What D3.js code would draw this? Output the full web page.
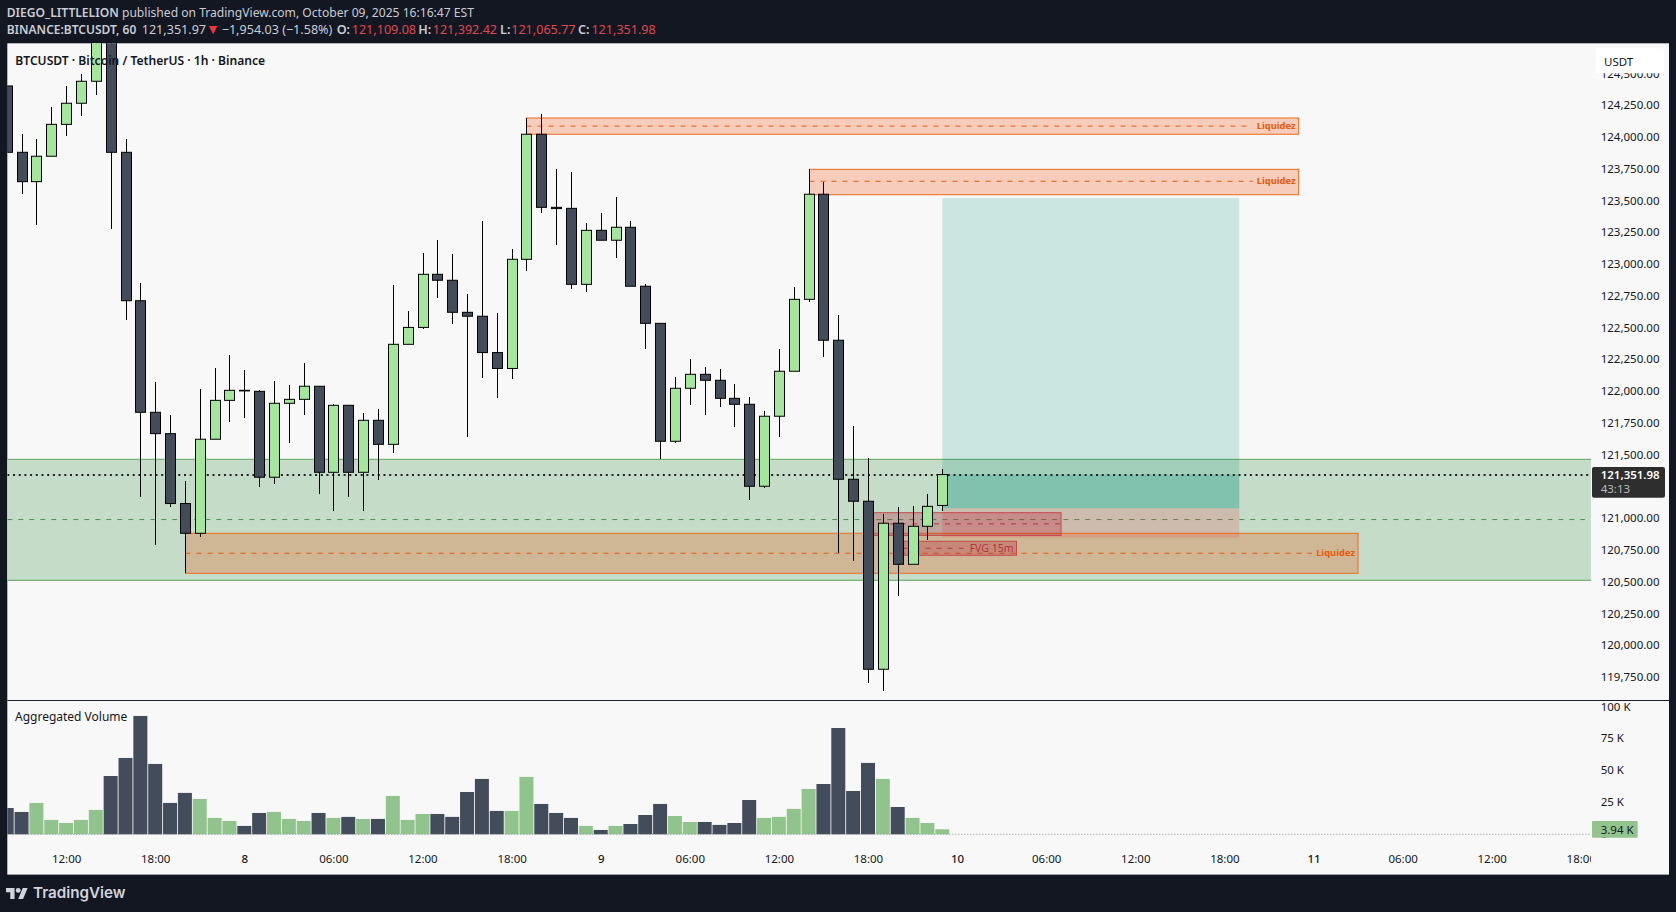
<!DOCTYPE html>
<html>
<head>
<meta charset="utf-8">
<script src="https://cdnjs.cloudflare.com/ajax/libs/d3/7.8.5/d3.min.js"></script>
<style>
  html, body { margin: 0; padding: 0; background: #131722; overflow: hidden; }
  text { font-family: "Noto Sans", sans-serif; }
  .axis text { font-size: 11.5px; fill: #131722; }
  .axis path, .axis line { display: none; }
</style>
</head>
<body>
<div id="chart"></div>
<script>
// bougies 1h, du bord gauche jusqu'a la bougie en cours
const opens = [124410,123888,123657,123857,124108,124274,124447,124811,123888,122720,121842,121674,121124,120890,121630,121936,122015,122007,121331,121913,121944,122047,121370,121897,121370,121779,121590,122377,122510,122928,122881,122629,122598,122312,122187,123046,124030,123455,123447,122849,123274,123196,123298,122834,122542,121614,122031,122141,122094,121952,121905,121260,121811,122165,122731,123558,122409,121315,121142,119820,120969,120646,120945,121109];
const highs = [124410,124032,123993,124245,124410,124504,124900,124900,123993,122860,122081,121821,121301,122025,122191,122293,122175,122018,122088,122057,122230,122047,121907,121897,121837,121868,122844,122639,123096,123198,123088,122773,123347,122622,123127,124158,124189,123757,123733,123332,123410,123536,123347,122852,122542,122120,122262,122199,122183,122065,121962,121852,122340,122828,123757,123657,122608,121734,121482,121042,121095,121102,121199,121392];
const lows = [123888,123562,123316,123857,124019,124176,124339,123285,122568,121178,120800,121099,120578,120863,121630,121768,121800,121257,121280,121603,121823,121202,121068,121178,121068,121312,121524,122377,122498,122744,122539,121650,122114,121957,122107,122956,123413,123161,122815,122791,123196,123059,122834,122343,121475,121603,121902,121823,121886,121729,121152,121243,121650,122165,122712,122280,120737,120674,119714,119651,120399,120646,120840,121066];
const closes = [123888,123657,123857,124108,124274,124447,124811,123888,122720,121842,121674,121124,120890,121630,121936,122015,122015,121331,121913,121944,122047,121370,121897,121370,121779,121590,122377,122510,122928,122881,122629,122598,122312,122187,123046,124030,123455,123445,122849,123274,123196,123298,122834,122542,121614,122031,122141,122094,121952,121905,121260,121811,122165,122731,123558,122409,121315,121142,119820,120969,120646,120945,121102,121352];
const volumes = [20.7,17.6,24.7,11.3,8.9,11.3,19.2,45.9,60.1,93.2,55.4,24.7,32.6,27.8,12.9,10.5,6.6,16.8,17.6,12.1,10.5,16.8,12.9,13.7,12.1,12.1,30.2,11.3,16,16,13.7,33.3,43.6,18.4,18.4,45.2,23.9,16.8,12.9,6.6,3.4,6.6,8.1,15.2,23.9,14.4,9.7,9.7,7.4,8.9,27,12.9,13.7,20,35.7,39.6,83.7,34.1,56.2,43.6,21.5,12.9,8.9,3.94];

const priceTicks = [124500,124250,124000,123750,123500,123250,123000,122750,122500,122250,122000,121750,121500,121000,120750,120500,120250,120000,119750];
const volumeTicks = [0,25,50,75,100];
const timeBars = [4,10,16,22,28,34,40,46,52,58,64,70,76,82,88,94,100,106];
const timeLabels = ['12:00','18:00','8','06:00','12:00','18:00','9','06:00','12:00','18:00','10','06:00','12:00','18:00','11','06:00','12:00','18:00'];
const dayLabels = ['8','9','10','11'];

const lastClose = 121351.98;
const greenZone = { top: 121472, mid: 120998, bottom: 120520 };
const liquidityStart = [35, 54, 12];
const liquidityEnd = [87, 87, 91];
const liquidityTop = [124158, 123754, 120890];
const liquidityMid = [124094, 123660, 120733];
const liquidityBottom = [124030, 123554, 120575];
const fvgStart = [58, 60.4];
const fvgEnd = [71, 68];
const fvgTop = [121052, 120827];
const fvgMid = [120964, 120772];
const fvgBottom = [120873, 120717];
const trade = { start: 63, end: 83, target: 123528, entry: 121087, stop: 120855 };

const W = 1676, H = 912;
const pane = { left: 7.3, right: 1591, top: 43.3, bottom: 874.6, edge: 1669, split: 700 };

const x = d3.scaleLinear().domain([0, 1]).range([6.7, 21.55]);
const y = d3.scaleLinear().domain([124250, 121000]).range([106.3, 519.3]);
const yVol = d3.scaleLinear().domain([0, 100]).range([834.3, 707.3]);
const snap = v => Math.round(v) + 0.5;

const svg = d3.select('#chart').append('svg').attr('width', W).attr('height', H).style('display', 'block');

svg.append('rect').attr('width', W).attr('height', H).attr('fill', '#131722');
svg.append('rect')
  .attr('x', pane.left).attr('y', pane.top)
  .attr('width', pane.edge - pane.left).attr('height', pane.bottom - pane.top)
  .attr('fill', '#f8f8f8');

const defs = svg.append('defs');
defs.append('clipPath').attr('id', 'clip-main').append('rect')
  .attr('x', pane.left).attr('y', pane.top).attr('width', pane.right - pane.left).attr('height', pane.split - pane.top);
defs.append('clipPath').attr('id', 'clip-time').append('rect')
  .attr('x', pane.left).attr('y', pane.split).attr('width', pane.right - pane.left).attr('height', pane.bottom - pane.split);

const main = svg.append('g').attr('clip-path', 'url(#clip-main)');

function zone(g, x0, x1, top, bottom, fill, opacity, stroke) {
  g.append('rect')
    .attr('x', x0).attr('width', x1 - x0)
    .attr('y', y(top)).attr('height', y(bottom) - y(top))
    .attr('fill', fill).attr('fill-opacity', opacity)
    .attr('stroke', stroke || 'none').attr('stroke-width', 1);
}

function dashed(g, x0, x1, price, color) {
  g.append('line')
    .attr('x1', x0).attr('x2', x1)
    .attr('y1', y(price)).attr('y2', y(price))
    .attr('stroke', color).attr('stroke-width', 1)
    .attr('stroke-dasharray', '5 6');
}

// zone verte
main.append('rect')
  .attr('x', pane.left).attr('width', pane.right - pane.left)
  .attr('y', y(greenZone.top)).attr('height', y(greenZone.bottom) - y(greenZone.top))
  .attr('fill', '#c5ddc8');
main.selectAll('line.green-edge').data([greenZone.top, greenZone.bottom]).enter().append('line')
  .attr('class', 'green-edge')
  .attr('x1', pane.left).attr('x2', pane.right)
  .attr('y1', d => y(d)).attr('y2', d => y(d))
  .attr('stroke', '#5ea35e').attr('stroke-width', 1);
dashed(main, pane.left, 1585, greenZone.mid, '#4c8f55');

// position longue
zone(main, x(trade.start), x(trade.end), trade.target, trade.entry, '#0a9580', 0.19);
zone(main, x(trade.start), x(trade.end), lastClose, trade.entry, '#0a9580', 0.22);
zone(main, x(trade.start), x(trade.end), trade.entry, trade.stop, '#f23645', 0.2);

// liquidite
liquidityStart.forEach((s, i) => {
  const x0 = snap(x(s)), x1 = x(liquidityEnd[i]);
  zone(main, x0, x1, liquidityTop[i], liquidityBottom[i], '#f04600', 0.25, '#ee6a1c');
  dashed(main, x0, x1 - 46, liquidityMid[i], '#e8590c');
  main.append('text')
    .attr('x', x1 - 3).attr('y', y(liquidityMid[i]) + 3.2)
    .attr('text-anchor', 'end')
    .attr('fill', '#e8590c').attr('font-size', 9.4).attr('font-weight', 700)
    .text('Liquidez');
});

// FVG
fvgStart.forEach((s, i) => {
  const x0 = x(s), x1 = x(fvgEnd[i]);
  zone(main, x0, x1, fvgTop[i], fvgBottom[i], '#b22234', 0.3, '#c44a4a');
  dashed(main, x0, i === 1 ? x1 - 50 : x1, fvgMid[i], '#b8324a');
});
main.append('text')
  .attr('x', x(fvgEnd[1]) - 3).attr('y', y(fvgMid[1]) + 3.6)
  .attr('text-anchor', 'end')
  .attr('fill', '#b8323c').attr('font-size', 10.5)
  .text('FVG 15m');

// ligne du dernier prix
main.append('line')
  .attr('x1', pane.left).attr('x2', pane.right)
  .attr('y1', Math.round(y(lastClose))).attr('y2', Math.round(y(lastClose)))
  .attr('stroke', '#222').attr('stroke-width', 2)
  .attr('stroke-dasharray', '2 3.7');

// bougies
const candles = main.append('g').selectAll('g').data(opens).enter().append('g');
candles.append('line')
  .attr('x1', (d, i) => snap(x(i))).attr('x2', (d, i) => snap(x(i)))
  .attr('y1', (d, i) => y(highs[i])).attr('y2', (d, i) => y(lows[i]))
  .attr('stroke', '#000').attr('stroke-width', 1)
  .attr('shape-rendering', 'crispEdges');
candles.append('rect')
  .attr('x', (d, i) => snap(x(i)) - 5)
  .attr('width', 10)
  .attr('y', (d, i) => y(Math.max(d, closes[i])))
  .attr('height', (d, i) => Math.max(0.6, Math.abs(y(d) - y(closes[i]))))
  .attr('fill', (d, i) => closes[i] > d ? '#a5e69d' : '#434c5a')
  .attr('stroke', '#000').attr('stroke-width', 1);

// separation prix / volume
svg.append('line')
  .attr('x1', pane.left).attr('x2', pane.edge)
  .attr('y1', pane.split + 0.5).attr('y2', pane.split + 0.5)
  .attr('stroke', '#1a1f2e').attr('stroke-width', 1);

// volume
svg.append('g').selectAll('rect').data(volumes).enter().append('rect')
  .attr('x', (d, i) => Math.max(pane.left, x(i) - 7))
  .attr('width', (d, i) => x(i) + 7 - Math.max(pane.left, x(i) - 7))
  .attr('y', d => yVol(d))
  .attr('height', d => yVol(0) - yVol(d))
  .attr('fill', (d, i) => closes[i] > opens[i] ? '#91c48c' : '#434c5a');
svg.append('line')
  .attr('x1', pane.left).attr('x2', 1590)
  .attr('y1', yVol(0)).attr('y2', yVol(0))
  .attr('stroke', '#8a8f99').attr('stroke-width', 1)
  .attr('stroke-dasharray', '1 2');

// axes
svg.append('g').attr('class', 'axis')
  .attr('transform', 'translate(1600.7,-1.2)')
  .call(d3.axisRight(y).tickValues(priceTicks).tickSize(0).tickPadding(0).tickFormat(d3.format(',.2f')));
svg.append('g').attr('class', 'axis')
  .attr('transform', 'translate(1600.7,-0.8)')
  .call(d3.axisRight(yVol).tickValues(volumeTicks).tickSize(0).tickPadding(0).tickFormat(d => d === 0 ? '0' : d + ' K'));
const timeAxis = svg.append('g').attr('clip-path', 'url(#clip-time)').append('g').attr('class', 'axis')
  .attr('transform', 'translate(0,855)')
  .call(d3.axisBottom(x).tickValues(timeBars).tickSize(0).tickPadding(0).tickFormat(d => timeLabels[timeBars.indexOf(d)]));
timeAxis.selectAll('text')
  .attr('font-weight', d => dayLabels.includes(timeLabels[timeBars.indexOf(d)]) ? 500 : 400);

// etiquettes de droite
svg.append('rect').attr('x', 1595.7).attr('y', 48.3).attr('width', 68.3).attr('height', 25).attr('rx', 3).attr('fill', '#fff');
svg.append('text').attr('x', 1604).attr('y', 65.7).attr('font-size', 11.5).attr('fill', '#131722').text('USDT');

svg.append('rect').attr('x', 1592).attr('y', 467).attr('width', 73).attr('height', 30.7).attr('rx', 2).attr('fill', '#2e2e2e');
svg.append('text').attr('x', 1600.7).attr('y', 478.7).attr('font-size', 11.5).attr('font-weight', 600).attr('fill', '#fff').text(d3.format(',.2f')(lastClose));
svg.append('text').attr('x', 1600.7).attr('y', 493).attr('font-size', 11.5).attr('fill', '#bbb').text('43:13');

svg.append('rect').attr('x', 1592).attr('y', 821).attr('width', 45.7).attr('height', 16.7).attr('rx', 1).attr('fill', '#93c48e');
svg.append('text').attr('x', 1600.7).attr('y', 833.5).attr('font-size', 11.5).attr('fill', '#131722').text('3.94 K');

// textes
svg.append('text').attr('x', 15.3).attr('y', 64.5).attr('font-size', 12.1).attr('font-weight', 600).attr('fill', '#131722')
  .text('BTCUSDT · Bitcoin / TetherUS · 1h · Binance');
svg.append('text').attr('x', 15).attr('y', 720.7).attr('font-size', 12).attr('fill', '#131722')
  .text('Aggregated Volume');

const head1 = svg.append('text').attr('x', 6.7).attr('y', 16.5).attr('font-size', 12.1).attr('fill', '#c8ccd4');
head1.append('tspan').attr('font-weight', 600).text('DIEGO_LITTLELION');
head1.append('tspan').text(' published on TradingView.com, October 09, 2025 16:16:47 EST');

const head2 = svg.append('text').attr('y', 33.5).attr('font-size', 12.6).attr('fill', '#c8ccd4');
head2.append('tspan').attr('x', 6.7).attr('font-size', 12).attr('font-weight', 600).text('BINANCE:BTCUSDT, 60');
head2.append('tspan').attr('x', 141.7).text('121,351.97');
head2.append('tspan').attr('x', 206).attr('font-size', 14).attr('fill', '#f23645').text('▼');
head2.append('tspan').attr('x', 221.7).text('−1,954.03 (−1.58%)');
[['O:', '121,109.08', 336.7, 351.7], ['H:', '121,392.42', 418.3, 432.7], ['L:', '121,065.77', 500, 511.2], ['C:', '121,351.98', 578, 591.4]].forEach(p => {
  head2.append('tspan').attr('x', p[2]).attr('font-weight', 600).text(p[0]);
  head2.append('tspan').attr('x', p[3]).attr('fill', '#e0474f').text(p[1]);
});

// logo
const logo = svg.append('g').attr('transform', 'translate(6,885.5) scale(0.61)').attr('fill', '#d1d4dc');
logo.append('path').attr('d', 'M14 22H7V11H0V4h14v18zM28 22h-8l7.5-18h8L28 22z');
logo.append('circle').attr('cx', 20).attr('cy', 8).attr('r', 4);
svg.append('text').attr('x', 33).attr('y', 898.3).attr('font-size', 15.2).attr('font-weight', 600).attr('fill', '#d1d4dc')
  .style('font-family', 'Inter, sans-serif')
  .text('TradingView');
</script>
</body>
</html>
